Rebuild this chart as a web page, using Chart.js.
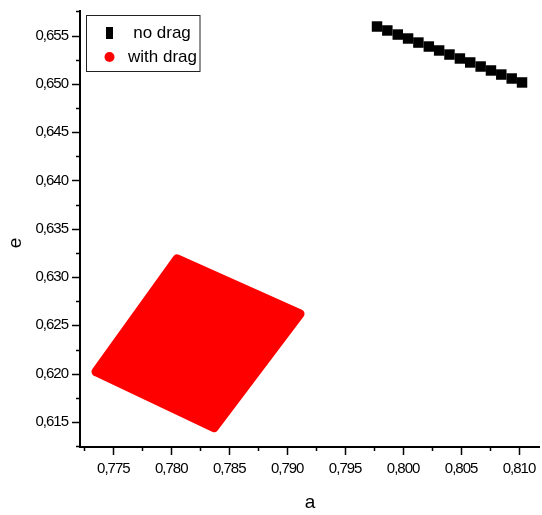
<!DOCTYPE html>
<html>
<head>
<meta charset="utf-8">
<script src="https://cdn.jsdelivr.net/npm/chart.js@4"></script>
<style>
  body { margin: 0; background: #fff; }
  canvas { display: block; }
</style>
</head>
<body>
<canvas id="myChart" width="542" height="515"></canvas>
<script>
// Tên các chuỗi dữ liệu
const seriesNames = ["no drag", "with drag"];
const axisTitles = { x: "a", e: "e" };

// Chuỗi "no drag" (ô vuông đen)
const noDragA = [0.79775, 0.79864, 0.79954, 0.80043, 0.80132, 0.80222, 0.80311, 0.80400,
                 0.80490, 0.80579, 0.80669, 0.80758, 0.80847, 0.80937, 0.81026];
const noDragE = [0.65593, 0.65552, 0.65510, 0.65469, 0.65427, 0.65386, 0.65345, 0.65303,
                 0.65262, 0.65221, 0.65179, 0.65138, 0.65096, 0.65055, 0.65014];

// Chuỗi "with drag": vùng đỏ, các góc của hình bình hành
const withDragA = [0.77351, 0.78050, 0.79111, 0.78369, 0.77351];
const withDragE = [0.62020, 0.63189, 0.62620, 0.61441, 0.62020];

// Trục
const xMin = 0.772127, xMax = 0.81181;
const yMin = 0.61241, yMax = 0.65764;
const majorStep = 0.005;
const minorStep = 0.0025;

const fmt = v => v.toFixed(3).replace(".", ",");

// Bỏ phần đệm tự động để vùng vẽ cố định
function fixPad(s) {
    s.paddingLeft = 0; s.paddingRight = 0; s.paddingTop = 0; s.paddingBottom = 0;
}

// Vẽ vạch chia, trục, chú thích, tiêu đề trục
const decor = {
    id: "decor",
    beforeDraw(chart) {
        chart.ctx.letterSpacing = "-1px";
    },
    afterDraw(chart) {
        const ctx = chart.ctx;
        const a = chart.chartArea;
        const xs = chart.scales.x, ys = chart.scales.y;
        ctx.save();
        ctx.letterSpacing = "0px";
        ctx.strokeStyle = "#000";
        ctx.lineWidth = 2;
        ctx.beginPath();
        ctx.moveTo(a.left, a.top);
        ctx.lineTo(a.left, a.bottom);
        ctx.lineTo(a.right, a.bottom);
        ctx.stroke();

        ctx.lineWidth = 1.5;
        ctx.beginPath();
        for (let i = Math.ceil(xMin / minorStep - 1e-6); i * minorStep <= xMax + 1e-9; i++) {
            const v = i * minorStep;
            const px = Math.round(xs.getPixelForValue(v)) + 0.5;
            const len = i % 2 === 0 ? 8 : 4;
            ctx.moveTo(px, a.bottom);
            ctx.lineTo(px, a.bottom + len);
        }
        for (let i = Math.ceil(yMin / minorStep - 1e-6); i * minorStep <= yMax + 1e-9; i++) {
            const v = i * minorStep;
            const py = Math.round(ys.getPixelForValue(v)) + 0.5;
            const len = i % 2 === 0 ? 8 : 4;
            ctx.moveTo(a.left, py);
            ctx.lineTo(a.left - len, py);
        }
        ctx.stroke();

        // Tiêu đề trục
        ctx.fillStyle = "#000";
        ctx.font = "19px 'Liberation Sans', Arial, sans-serif";
        ctx.textAlign = "center";
        ctx.textBaseline = "middle";
        ctx.fillText(axisTitles.x, (a.left + a.right) / 2, 503);
        ctx.translate(16, 243);
        ctx.rotate(-Math.PI / 2);
        ctx.fillText(axisTitles.e, 0, 0);
        ctx.restore();

        // Chú thích
        ctx.save();
        ctx.letterSpacing = "0px";
        ctx.strokeStyle = "#222";
        ctx.lineWidth = 1;
        ctx.strokeRect(86.5, 15.5, 113.5, 56);
        ctx.fillStyle = chart.data.datasets[0].backgroundColor;
        ctx.fillRect(106, 27, 7, 12);
        ctx.fillStyle = chart.data.datasets[1].backgroundColor;
        ctx.beginPath();
        ctx.arc(109.5, 57, 5, 0, Math.PI * 2);
        ctx.fill();
        ctx.fillStyle = "#000";
        ctx.font = "17px 'Liberation Sans', Arial, sans-serif";
        ctx.textAlign = "center";
        ctx.textBaseline = "middle";
        ctx.fillText(chart.data.datasets[0].label, 162, 33);
        ctx.fillText(chart.data.datasets[1].label, 162.5, 57);
        ctx.restore();
    }
};

const tickFont = { family: "'Liberation Sans', Arial, sans-serif", size: 15 };
// Lưới trong suốt, chỉ dùng độ dài vạch để đẩy nhãn ra xa trục
const hiddenGrid = len => ({
    display: true, drawOnChartArea: false, drawTicks: true,
    tickLength: len, color: "rgba(0,0,0,0)"
});

const ctx = document.getElementById("myChart").getContext("2d");
new Chart(ctx, {
    type: "scatter",
    data: {
        datasets: [
            {
                label: seriesNames[0],
                data: noDragA.map((x, i) => ({ x: x, y: noDragE[i] })),
                pointStyle: "rect",
                pointRadius: 7.4,
                backgroundColor: "#000000",
                borderColor: "#000000",
                borderWidth: 0
            },
            {
                label: seriesNames[1],
                data: withDragA.map((x, i) => ({ x: x, y: withDragE[i] })),
                showLine: true,
                fill: "shape",
                pointRadius: 0,
                backgroundColor: "#ff0000",
                borderColor: "#ff0000",
                borderWidth: 9,
                borderJoinStyle: "round",
                borderCapStyle: "round",
                tension: 0
            }
        ]
    },
    options: {
        responsive: false,
        animation: false,
        layout: { autoPadding: false, padding: { top: 10, right: 2, left: 0, bottom: 0 } },
        plugins: { legend: { display: false }, tooltip: { enabled: false } },
        scales: {
            x: {
                type: "linear",
                min: xMin, max: xMax,
                afterFit: s => { s.height = 68; fixPad(s); },
                grid: hiddenGrid(13),
                border: { display: false },
                ticks: {
                    stepSize: majorStep, includeBounds: false, padding: 0,
                    color: "#000", font: tickFont, maxRotation: 0,
                    callback: v => fmt(v)
                }
            },
            y: {
                type: "linear",
                min: yMin, max: yMax,
                afterFit: s => { s.width = 80; fixPad(s); },
                grid: hiddenGrid(12),
                border: { display: false },
                ticks: {
                    stepSize: majorStep, includeBounds: false, padding: 0,
                    color: "#000", font: tickFont,
                    callback: v => fmt(v)
                }
            }
        }
    },
    plugins: [decor]
});
</script>
</body>
</html>
